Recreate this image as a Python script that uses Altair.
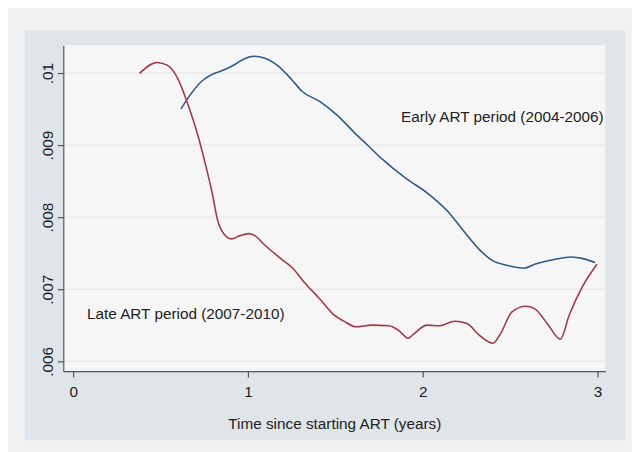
import altair as alt
import pandas as pd

# Early ART period (2004-2006)
early_t = [0.617, 0.677, 0.737, 0.796, 0.875, 0.935, 0.974, 1.034, 1.093, 1.172,
           1.252, 1.311, 1.410, 1.510, 1.609, 1.688, 1.767, 1.906, 2.025, 2.144,
           2.243, 2.323, 2.402, 2.481, 2.580, 2.640, 2.758, 2.848, 2.917, 2.986]
early_rate = [0.009502, 0.009721, 0.009890, 0.009982, 0.010055, 0.010132, 0.010192,
              0.010233, 0.010210, 0.010100, 0.009904, 0.009744, 0.009607, 0.009416,
              0.009174, 0.008991, 0.008808, 0.008534, 0.008338, 0.008078, 0.007781,
              0.007553, 0.007393, 0.007333, 0.007292, 0.007347, 0.007416, 0.007447,
              0.007425, 0.007370]

# Late ART period (2007-2010)
late_t = [0.380, 0.479, 0.538, 0.598, 0.657, 0.717, 0.756, 0.796, 0.826, 0.865,
          0.905, 0.954, 1.004, 1.044, 1.093, 1.193, 1.252, 1.331, 1.410, 1.490,
          1.549, 1.619, 1.708, 1.807, 1.867, 1.916, 1.946, 2.025, 2.094, 2.184,
          2.253, 2.323, 2.402, 2.441, 2.511, 2.590, 2.640, 2.719, 2.788, 2.838,
          2.917, 2.997]
late_rate = [0.009995, 0.010146, 0.010110, 0.009927, 0.009562, 0.009105, 0.008740,
             0.008329, 0.007963, 0.007758, 0.007699, 0.007744, 0.007772, 0.007737,
             0.007621, 0.007416, 0.007301, 0.007073, 0.006868, 0.006648, 0.006557,
             0.006479, 0.006502, 0.006493, 0.006420, 0.006320, 0.006374, 0.006502,
             0.006493, 0.006557, 0.006525, 0.006365, 0.006251, 0.006365, 0.006685,
             0.006763, 0.006731, 0.006502, 0.006306, 0.006639, 0.007050, 0.007347]

x_ticks = [0, 1, 2, 3]
y_ticks = [0.006, 0.007, 0.008, 0.009, 0.01]

label_text = ["Early ART period (2004-2006)", "Late ART period (2007-2010)"]
label_x = [1.876, 0.079]
label_y = [0.009384, 0.006658]

x_title = "Time since starting ART (years)"

colors = {"early": "#2f5b87", "late": "#a33a4a"}
FONT = "Liberation Sans"
FS = 15.5

df = pd.concat([
    pd.DataFrame({"t": early_t, "rate": early_rate, "period": "early"}),
    pd.DataFrame({"t": late_t, "rate": late_rate, "period": "late"}),
])
grid_df = pd.DataFrame({"rate": y_ticks})
lab_df = pd.DataFrame({"text": label_text, "t": label_x, "rate": label_y})
one = pd.DataFrame({"a": [0]})

xscale = alt.Scale(domain=[-0.0565, 3.045], nice=False, zero=False)
yscale = alt.Scale(domain=[0.005863, 0.010384], nice=False, zero=False)

xaxis = alt.Axis(values=x_ticks, title=x_title, grid=False, zindex=1,
                 format="d", tickSize=6, labelPadding=8, titlePadding=17)
yaxis = alt.Axis(values=y_ticks, title=None, grid=False, zindex=1,
                 labelExpr="substring(format(datum.value, '~g'), 1)",
                 labelAngle=270, labelAlign="center", labelBaseline="bottom",
                 tickSize=6, labelPadding=2)

X = alt.X("t:Q", scale=xscale, axis=xaxis)
Y = alt.Y("rate:Q", scale=yscale, axis=yaxis)

panel = alt.Chart(one).mark_rect(color="#dfe5e9").encode(
    x=alt.value(-39), x2=alt.value(569), y=alt.value(-15), y2=alt.value(400)
)
plotbg = alt.Chart(one).mark_rect(color="#f6f6f6").encode(
    x=alt.value(0), x2=alt.value(549), y=alt.value(0), y2=alt.value(330)
)
grid = alt.Chart(grid_df).mark_rule(color="#e3e3e3", strokeWidth=1).encode(y=Y)

lines = alt.Chart(df).mark_line(strokeWidth=1.6, interpolate="monotone").encode(
    x=X,
    y=Y,
    color=alt.Color("period:N",
                    scale=alt.Scale(domain=list(colors.keys()), range=list(colors.values())),
                    legend=None),
    detail="period:N",
)

labels = alt.Chart(lab_df).mark_text(
    align="left", baseline="middle", font=FONT, fontSize=FS, color="#222222"
).encode(x=X, y=Y, text="text:N")

chart = alt.layer(panel, plotbg, grid, lines, labels).properties(
    width=549, height=330,
    padding={"left": 56, "top": 35, "right": 27, "bottom": 79},
    autosize=alt.AutoSizeParams(type="none"),
    background="#f1f1f1",
).configure_view(stroke=None).configure_axis(
    domainColor="#555555", tickColor="#555555", domainWidth=1.2, tickWidth=1.2,
    labelFont=FONT, titleFont=FONT, labelFontSize=FS, titleFontSize=FS,
    labelColor="#222222", titleColor="#222222", titleFontWeight="normal",
)

chart.save("out.html", embed_options={"renderer": "svg", "actions": False})
